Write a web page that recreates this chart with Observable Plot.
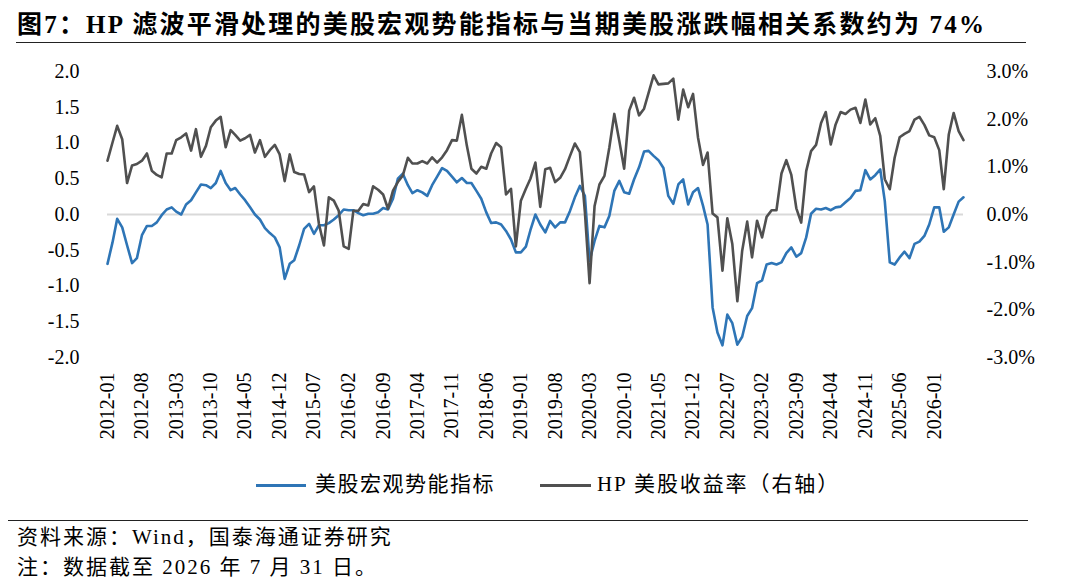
<!DOCTYPE html>
<html><head><meta charset="utf-8">
<script src="https://cdn.jsdelivr.net/npm/d3@7"></script>
<script src="https://cdn.jsdelivr.net/npm/@observablehq/plot@0.6"></script>
<style>
body{margin:0;background:#fff;}
#wrap{position:relative;width:1080px;height:584px;overflow:hidden;font-family:"Liberation Serif","Noto Sans CJK SC",serif;color:#000;background:#fff;}
#title{position:absolute;left:17px;top:10px;font-size:25px;font-weight:bold;white-space:nowrap;letter-spacing:2.2px;line-height:29px;}
.rule{position:absolute;height:0;border-top:1.6px solid #222;}
#chart{position:absolute;left:0;top:50px;}
.leg{position:absolute;top:472px;font-size:21px;line-height:24px;white-space:nowrap;}
.sw{position:absolute;top:484px;height:3px;}
.foot{position:absolute;left:17px;font-size:21px;white-space:nowrap;line-height:24px;letter-spacing:2px;}
</style></head>
<body><div id="wrap">
<div id="title">图7：HP 滤波平滑处理的美股宏观势能指标与当期美股涨跌幅相关系数约为 74%</div>
<div class="rule" style="left:16px;top:42px;width:1010px;"></div>
<div id="chart"></div>
<div class="sw" style="left:256px;width:50px;background:#2E75B6;"></div>
<div class="leg" style="left:315px;letter-spacing:1.5px;">美股宏观势能指标</div>
<div class="sw" style="left:540px;width:51px;background:#505050;"></div>
<div class="leg" style="left:597px;letter-spacing:1.9px;">HP 美股收益率（右轴）</div>
<div class="rule" style="left:8px;top:520px;width:1020px;"></div>
<div class="foot" style="top:525px;">资料来源：Wind，国泰海通证券研究</div>
<div class="foot" style="top:555px;">注：数据截至 2026 年 7 月 31 日。</div>
</div>
<script>
const startMonth = "2012-01";
const endMonth = "2026-07";
const tickLabels = ["2012-01","2012-08","2013-03","2013-10","2014-05","2014-12","2015-07","2016-02","2016-09","2017-04","2017-11","2018-06","2019-01","2019-08","2020-03","2020-10","2021-05","2021-12","2022-07","2023-02","2023-09","2024-04","2024-11","2025-06","2026-01"];
const leftTicks = [-2.0,-1.5,-1.0,-0.5,0.0,0.5,1.0,1.5,2.0];
const rightTicks = [-3,-2,-1,0,1,2,3];
// 美股宏观势能指标 (left axis)
const macro = [-0.69,-0.39,-0.06,-0.18,-0.43,-0.68,-0.61,-0.29,-0.16,-0.16,-0.11,-0.01,
0.07,0.10,0.04,0.00,0.14,0.20,0.31,0.42,0.41,0.37,0.44,0.61,
0.44,0.34,0.37,0.28,0.20,0.10,0.00,-0.07,-0.19,-0.26,-0.32,-0.46,
-0.90,-0.69,-0.64,-0.43,-0.20,-0.13,-0.27,-0.15,-0.15,-0.12,-0.07,-0.01,
0.07,0.06,0.06,0.02,-0.01,0.01,0.01,0.03,0.09,0.07,0.22,0.50,
0.57,0.41,0.30,0.34,0.31,0.26,0.41,0.53,0.65,0.61,0.53,0.45,
0.51,0.44,0.44,0.33,0.22,0.03,-0.12,-0.11,-0.14,-0.23,-0.35,-0.53,
-0.53,-0.45,-0.22,0.00,-0.14,-0.25,-0.09,-0.18,-0.11,-0.11,0.05,0.24,
0.40,0.26,-0.65,-0.37,-0.16,-0.18,-0.02,0.33,0.47,0.31,0.29,0.49,
0.66,0.88,0.89,0.82,0.76,0.65,0.26,0.15,0.42,0.49,0.14,0.31,
0.37,0.12,-0.14,-1.30,-1.65,-1.83,-1.40,-1.52,-1.82,-1.71,-1.42,-1.31,
-0.96,-0.92,-0.70,-0.68,-0.70,-0.67,-0.54,-0.46,-0.59,-0.54,-0.32,0.01,
0.08,0.07,0.09,0.06,0.10,0.11,0.17,0.23,0.33,0.34,0.62,0.49,
0.55,0.63,0.19,-0.67,-0.70,-0.60,-0.52,-0.61,-0.41,-0.38,-0.30,-0.14,
0.10,0.10,-0.24,-0.18,0.00,0.18,0.24];
// HP 美股收益率 (%, right axis)
const hpReturn = [1.13,1.51,1.86,1.58,0.66,1.03,1.06,1.13,1.28,0.92,0.83,0.78,
1.28,1.28,1.56,1.62,1.70,1.34,1.79,1.21,1.44,1.83,1.97,2.05,
1.41,1.77,1.67,1.55,1.60,1.67,1.30,1.56,1.21,1.35,1.46,1.26,
0.70,1.26,0.89,0.85,0.84,0.47,0.59,-0.20,-0.65,0.36,0.29,0.08,
-0.67,-0.72,0.08,0.08,0.22,0.19,0.59,0.52,0.42,0.12,0.50,0.68,
0.82,1.19,1.07,1.07,1.12,1.07,1.20,1.09,1.20,1.35,1.56,1.55,
2.09,1.44,0.96,0.86,1.00,0.96,1.28,1.50,1.41,0.42,0.54,-0.67,
0.29,0.54,0.75,1.09,0.16,0.95,0.98,0.68,0.77,0.95,1.23,1.49,
1.31,0.05,-1.44,0.18,0.63,0.81,1.40,2.11,1.54,0.96,2.18,2.45,
2.08,2.22,2.55,2.92,2.73,2.74,2.75,2.85,1.99,2.62,2.25,2.53,
1.61,1.04,1.30,0.02,-0.06,-1.18,-0.08,-0.62,-1.82,-0.76,-0.15,-0.90,
-0.13,-0.48,-0.05,0.09,0.09,0.86,1.14,0.83,0.13,-0.17,0.91,1.33,
1.46,1.92,2.15,1.47,1.89,2.15,2.11,2.20,2.24,1.92,2.41,1.89,
2.02,1.65,0.74,0.53,1.19,1.62,1.69,1.75,1.99,2.05,1.88,1.66,
1.62,1.35,0.53,1.68,2.13,1.75,1.56];

const parseM = d3.utcParse("%Y-%m");
const months = d3.utcMonth.range(parseM(startMonth), d3.utcMonth.offset(parseM(endMonth), 1));
const rows = months.map((date, i) => ({date, macro: macro[i], ret: hpReturn[i]}));
const ratio = 1.5; // right-axis % per left-axis unit
const font = '"Liberation Serif","Noto Sans CJK SC",serif';

const chart = Plot.plot({
  width: 1080, height: 397,
  marginLeft: 107, marginRight: 117, marginTop: 21, marginBottom: 90,
  style: {fontFamily: font, fontSize: "20px", color: "#000", background: "transparent", overflow: "visible"},
  x: {type: "utc", domain: [months[0], months[months.length - 1]]},
  y: {domain: [-2, 2]},
  marks: [
    Plot.ruleY([0], {stroke: "#d9d9d9", strokeWidth: 2}),
    Plot.axisY({anchor: "left", ticks: leftTicks, tickFormat: d => d.toFixed(1), tickSize: 0, tickPadding: 28, label: null, fontSize: 20}),
    Plot.axisY({anchor: "right", ticks: rightTicks.map(v => v / ratio), tickFormat: d => (d * ratio).toFixed(1) + "%", tickSize: 0, tickPadding: 23, label: null, fontSize: 20}),
    Plot.axisX({ticks: tickLabels.map(parseM), tickFormat: d3.utcFormat("%Y-%m"), tickRotate: -90, tickSize: 0, tickPadding: 15, label: null, fontSize: 20}),
    Plot.lineY(rows, {x: "date", y: "macro", stroke: "#2E75B6", strokeWidth: 2.6}),
    Plot.lineY(rows, {x: "date", y: d => d.ret / ratio, stroke: "#505050", strokeWidth: 2.6})
  ]
});
document.getElementById("chart").appendChild(chart);
</script>
</body></html>
